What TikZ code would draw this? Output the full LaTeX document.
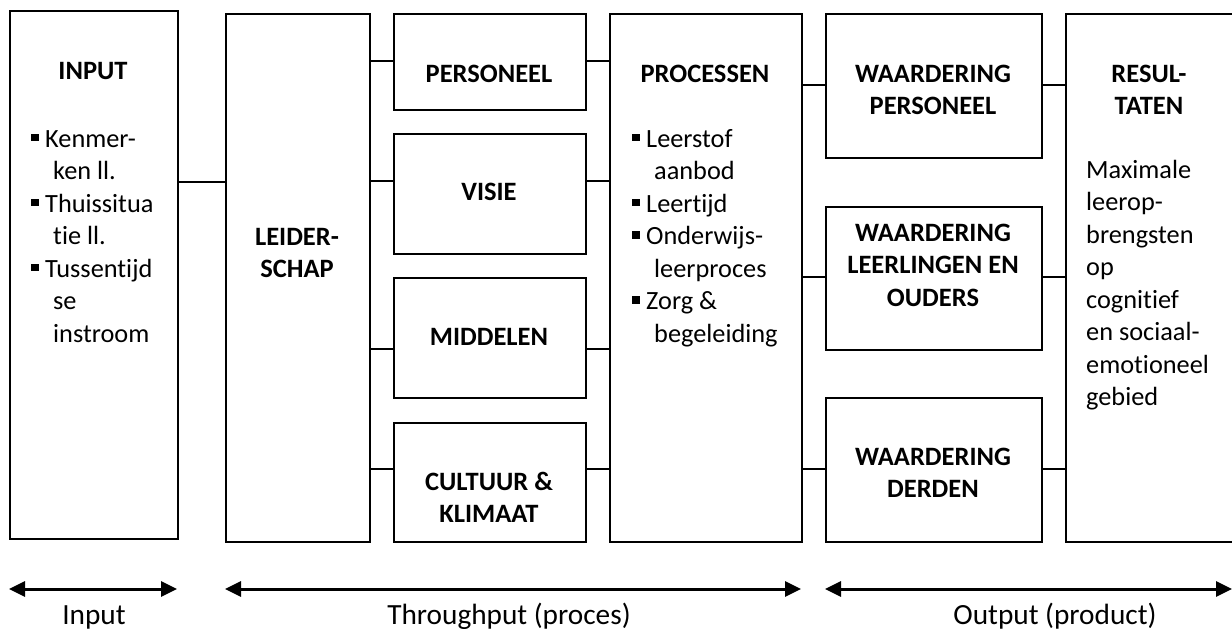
\documentclass[tikz,border=0pt]{standalone}
\usepackage{fontspec}
\setmainfont{Carlito}[Ligatures=NoCommon]
\usetikzlibrary{arrows.meta}

% bullet marker and hanging indent for list lines
\newcommand{\bul}{\makebox[14pt][l]{\raisebox{6pt}{\rule{7.3pt}{7.3pt}}}}
\newcommand{\ind}{\hspace*{22pt}}
% box with given left, top, right, bottom (in px-like units)
\newcommand{\boxat}[5]{\node[box,minimum width={#4-#2},minimum height={#5-#3}] (#1) at (#2,#3) {};}

\begin{document}
\begin{tikzpicture}[x=1pt,y=-1pt,
  box/.style={draw,line width=2pt,fill=white,inner sep=0pt,anchor=north west},
  link/.style={line width=1.3pt},
  span/.style={line width=3pt,{Triangle[length=16pt,width=15pt]}-{Triangle[length=16pt,width=15pt]}},
  ttl/.style={inner sep=0pt,anchor=base,font=\fontsize{26.5}{32.5}\selectfont\bfseries},
  lst/.style={inner sep=0pt,anchor=base west,font=\fontsize{26.3}{32.5}\selectfont},
  phaselabel/.style={inner sep=0pt,anchor=base,font=\fontsize{29.3}{34}\selectfont}]
\useasboundingbox (0,0) rectangle (1232,629);
\clip (0,0) rectangle (1232,629);

% boxes
\boxat{input}{9}{10}{177}{538}
\boxat{leider}{225}{13}{369}{541}
\boxat{pers}{393}{13}{585}{109}
\boxat{visie}{393}{133}{585}{253}
\boxat{midd}{393}{277}{585}{397}
\boxat{cult}{393}{422}{585}{541}
\boxat{proc}{609}{13}{801}{541}
\boxat{wpers}{825}{13}{1041}{157}
\boxat{wleer}{825}{206}{1041}{349}
\boxat{wderd}{825}{397}{1041}{541}
\boxat{res}{1065}{13}{1245}{541}

% box texts
\node[ttl] (input-t) at (93,79) {INPUT};
\node[lst] (input-l) at (31,147) {\begin{tabular}[t]{@{}l@{}}
  \bul Kenmer-\\ \ind ken ll.\\ \bul Thuissitua\\ \ind tie ll.\\
  \bul Tussentijd\\ \ind se\\ \ind instroom\end{tabular}};
\node[ttl] (leider-t) at (297,245) {\begin{tabular}[t]{@{}c@{}}LEIDER-\\SCHAP\end{tabular}};
\node[ttl] (pers-t) at (489,82) {PERSONEEL};
\node[ttl] (visie-t) at (489,200) {VISIE};
\node[ttl] (midd-t) at (489,345) {MIDDELEN};
\node[ttl] (cult-t) at (489,490) {\begin{tabular}[t]{@{}c@{}}CULTUUR \&\\KLIMAAT\end{tabular}};
\node[ttl] (proc-t) at (705,82) {PROCESSEN};
\node[lst] (proc-l) at (632,147) {\begin{tabular}[t]{@{}l@{}}
  \bul Leerstof\\ \ind aanbod\\ \bul Leertijd\\ \bul Onderwijs-\\
  \ind leerproces\\ \bul Zorg \&\\ \ind begeleiding\end{tabular}};
\node[ttl] (wpers-t) at (933,82) {\begin{tabular}[t]{@{}c@{}}WAARDERING\\PERSONEEL\end{tabular}};
\node[ttl] (wleer-t) at (933,241) {\begin{tabular}[t]{@{}c@{}}WAARDERING\\LEERLINGEN EN\\OUDERS\end{tabular}};
\node[ttl] (wderd-t) at (933,465) {\begin{tabular}[t]{@{}c@{}}WAARDERING\\DERDEN\end{tabular}};
\node[ttl] (res-t) at (1149,82) {\begin{tabular}[t]{@{}c@{}}RESUL-\\TATEN\end{tabular}};
\node[lst] (res-l) at (1086,178) {\begin{tabular}[t]{@{}l@{}}
  Maximale\\ leerop-\\ brengsten\\ op\\ cognitief\\ en sociaal-\\
  emotioneel\\ gebied\end{tabular}};

% connector rows
\coordinate (rin) at (0,182);
\coordinate (r1) at (0,61);
\coordinate (r2) at (0,181);
\coordinate (r3) at (0,349);
\coordinate (r4) at (0,469);
\coordinate (o1) at (0,85);
\coordinate (o2) at (0,277);
\coordinate (o3) at (0,469);

\draw[link] (input.east |- rin) -- (leider.west |- rin);
\foreach \r/\b in {r1/pers,r2/visie,r3/midd,r4/cult}{
  \draw[link] (leider.east |- \r) -- (\b.west |- \r);
  \draw[link] (\b.east |- \r) -- (proc.west |- \r);
}
\foreach \r/\b in {o1/wpers,o2/wleer,o3/wderd}{
  \draw[link] (proc.east |- \r) -- (\b.west |- \r);
  \draw[link] (\b.east |- \r) -- (res.west |- \r);
}

% phase spans
\coordinate (s1l) at (9,589);
\coordinate (s1r) at (177,589);
\coordinate (s2l) at (225,589);
\coordinate (s2r) at (801,589);
\coordinate (s3l) at (825,589);
\coordinate (s3r) at (1232,589);
\draw[span] (s1l) -- (s1r);
\draw[span] (s2l) -- (s2r);
\draw[span] (s3l) -- (s3r);

\node[phaselabel] (c1) at (94,624) {Input};
\node[phaselabel] (c2) at (509,624) {Throughput (proces)};
\node[phaselabel] (c3) at (1055,624) {Output (product)};
\end{tikzpicture}
\end{document}
